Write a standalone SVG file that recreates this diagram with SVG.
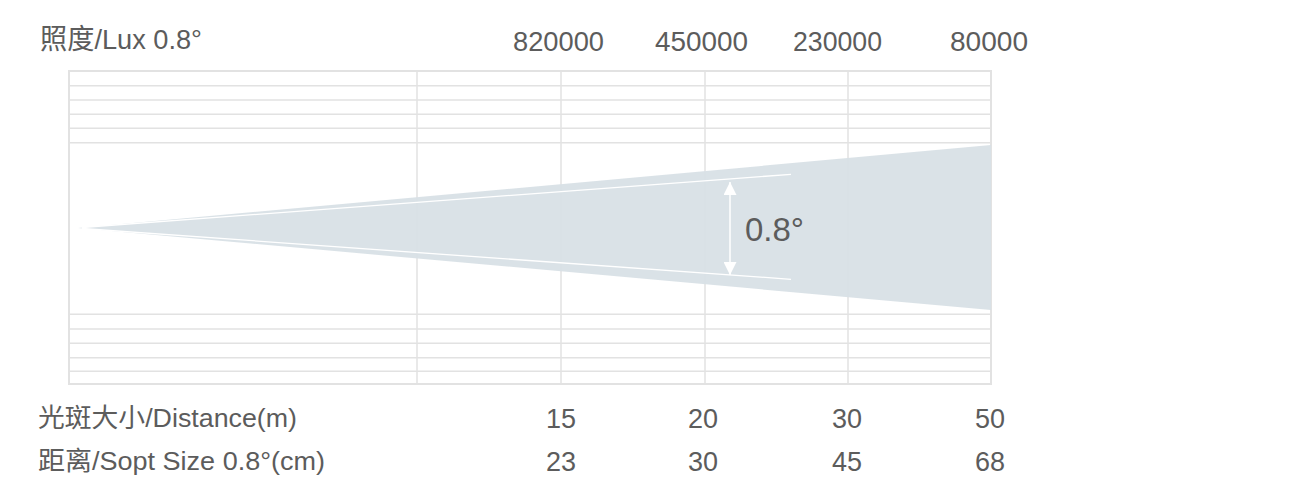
<svg xmlns="http://www.w3.org/2000/svg" width="1314" height="501" viewBox="0 0 1314 501">
  <defs>
    <style>
      .t { font-family: "Liberation Sans", "Noto Sans CJK SC", sans-serif; fill: #5c5c5c; }
      .top { font-size: 28px; }
      .bot { font-size: 26px; }
      .num { font-size: 27px; }
      .grid { stroke: #e2e2e2; stroke-width: 1.5; fill: none; }
      .border { stroke: #e2e2e2; stroke-width: 2; fill: none; }
      .wl { stroke: #ffffff; stroke-width: 1.3; fill: none; }
    </style>
    <marker id="ah" viewBox="0 0 10 10" refX="10" refY="5" markerWidth="13" markerHeight="13" markerUnits="userSpaceOnUse" orient="auto-start-reverse">
      <path d="M0,0 L10,5 L0,10 Z" fill="#ffffff"/>
    </marker>
  </defs>
  <rect width="1314" height="501" fill="#ffffff"/>

  <g id="header">
    <text class="t top" x="40" y="49" textLength="162" lengthAdjust="spacingAndGlyphs">照度/Lux 0.8°</text>
    <text class="t top" x="513" y="50.5" textLength="91" lengthAdjust="spacingAndGlyphs">820000</text>
    <text class="t top" x="655" y="50.5" textLength="93" lengthAdjust="spacingAndGlyphs">450000</text>
    <text class="t top" x="793" y="50.5" textLength="89" lengthAdjust="spacingAndGlyphs">230000</text>
    <text class="t top" x="950" y="50.5" textLength="78" lengthAdjust="spacingAndGlyphs">80000</text>
  </g>

  <g id="grid">
    <path class="grid" d="M69,85.7H991 M69,100H991 M69,114.3H991 M69,128.3H991 M69,142.7H991 M69,314.3H991 M69,329H991 M69,343.3H991 M69,357.7H991 M69,371.3H991"/>
    <path class="grid" d="M417,71V384 M561,71V384 M705,71V384 M848,71V384"/>
    <rect class="border" x="69" y="71" width="922" height="313"/>
  </g>

  <g id="beam">
    <polygon points="78,228 991,145 991,310" fill="#d8e0e6" fill-opacity="0.94"/>
    <line class="wl" x1="82" y1="227.5" x2="791" y2="174.3"/>
    <line class="wl" x1="82" y1="228.5" x2="791" y2="279.3"/>
  </g>

  <g id="connectors">
    <line x1="730" y1="182" x2="730" y2="275" stroke="#ffffff" stroke-width="1.5" marker-start="url(#ah)" marker-end="url(#ah)"/>
  </g>

  <g id="angle-label">
    <text class="t" x="745" y="241" font-size="33" textLength="59" lengthAdjust="spacingAndGlyphs">0.8°</text>
  </g>

  <g id="footer">
    <text class="t bot" x="38" y="427" textLength="259" lengthAdjust="spacingAndGlyphs">光斑大小/Distance(m)</text>
    <text class="t bot" x="38" y="470" textLength="287" lengthAdjust="spacingAndGlyphs">距离/Sopt Size 0.8°(cm)</text>
    <g text-anchor="middle">
      <text class="t num" x="561" y="427.5">15</text>
      <text class="t num" x="703" y="427.5">20</text>
      <text class="t num" x="847" y="427.5">30</text>
      <text class="t num" x="990" y="427.5">50</text>
      <text class="t num" x="561" y="471">23</text>
      <text class="t num" x="703" y="471">30</text>
      <text class="t num" x="847" y="471">45</text>
      <text class="t num" x="990" y="471">68</text>
    </g>
  </g>
</svg>
